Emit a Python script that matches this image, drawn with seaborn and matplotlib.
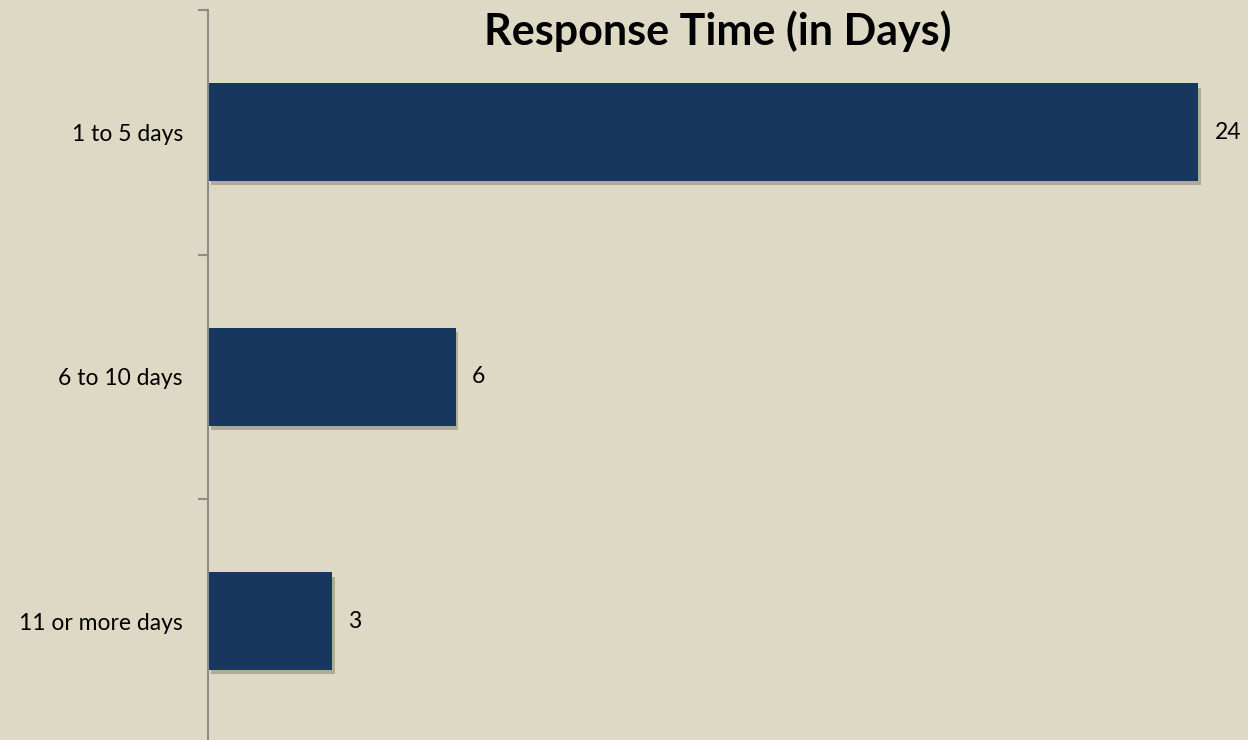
import pandas as pd
import seaborn as sns
import matplotlib.pyplot as plt
import matplotlib.patheffects as pe

# Response time counts
categories = ["1 to 5 days", "6 to 10 days", "11 or more days"]
counts = [24, 6, 3]

df = pd.DataFrame({"category": categories, "count": counts})

bg = "#DDD9C4"
bar_color = "#17375E"

sns.set_style("white")
plt.rcParams["font.family"] = ["Lato", "DejaVu Sans"]

fig = plt.figure(figsize=(12.48, 7.4), dpi=100, facecolor=bg)
# axes: spine from y=10 down past the bottom edge, x from 208 to right edge
ax = fig.add_axes([208 / 1248, -3.5 / 740, 1040 / 1248, 733.5 / 740])
ax.set_facecolor(bg)

sns.barplot(data=df, x="count", y="category", orient="h", color=bar_color,
            width=0.4, saturation=1, ax=ax)

for bar in ax.patches:
    bar.set_edgecolor("none")
    bar.set_path_effects([pe.SimplePatchShadow(offset=(2, -3), shadow_rgbFace="#7a7462", alpha=0.45),
                          pe.Normal()])

ax.bar_label(ax.containers[0], padding=12, fontsize=16.5, color="black")

ax.set_xlim(0, 1040 / 41.25)
ax.set_ylim(2.5, -0.5)
ax.set_xlabel("")
ax.set_ylabel("")
ax.set_xticks([])

# tick marks at category boundaries, labels at centres
ax.set_yticks([-0.5, 0.5, 1.5, 2.5], minor=True)
ax.tick_params(axis="y", which="minor", length=7, width=1.5, color="#8c8c8c", left=True)
ax.tick_params(axis="y", which="major", length=0, pad=18, labelsize=16.5, labelcolor="black")

for side in ["top", "right", "bottom"]:
    ax.spines[side].set_visible(False)
ax.spines["left"].set_color("#8c8c8c")
ax.spines["left"].set_linewidth(1.5)

fig.text(718 / 1248, 1 - 31 / 740, "Response Time (in Days)", ha="center", va="center",
         fontsize=31, fontweight="bold", color="black")

fig.savefig("out.png", dpi=100, facecolor=bg)
